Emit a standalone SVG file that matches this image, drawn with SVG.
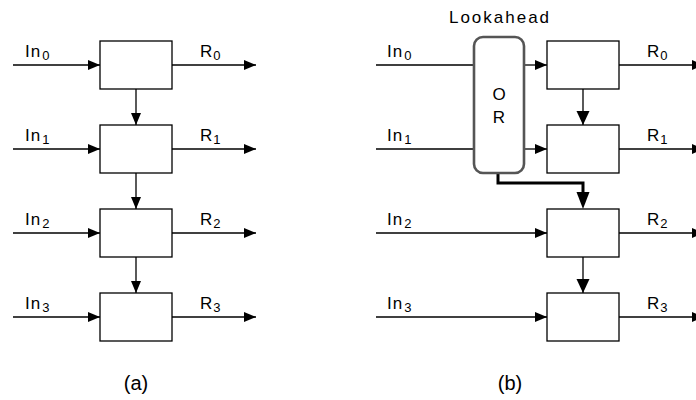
<svg xmlns="http://www.w3.org/2000/svg" width="696" height="400" viewBox="0 0 696 400">
<style>
.box{fill:#fff;stroke:#000;stroke-width:1.3}
.ln{fill:none;stroke:#000;stroke-width:1.3}
.thick{fill:none;stroke:#000;stroke-width:3}
.or{fill:#fff;stroke:#555;stroke-width:2.6}
text{font-family:"Liberation Sans",Arial,sans-serif;font-size:17px;fill:#000}
.lb{letter-spacing:1px}
.sub{font-size:13px;letter-spacing:0}
.cap{font-size:20px}
</style>
<defs>
<marker id="a" markerUnits="userSpaceOnUse" markerWidth="13" markerHeight="11" refX="12" refY="5" orient="auto"><path d="M0,0L12,5L0,10z" fill="#000"/></marker>
<marker id="b" markerUnits="userSpaceOnUse" markerWidth="15" markerHeight="14" refX="14" refY="6.5" orient="auto"><path d="M0,0L14,6.5L0,13z" fill="#000"/></marker>
<marker id="c" markerUnits="userSpaceOnUse" markerWidth="18" markerHeight="14" refX="0" refY="6.5" orient="auto"><path d="M0,0L17,6.5L0,13z" fill="#000"/></marker>
</defs>
<g id="connectors">
<path class="ln" d="M13 65H100" marker-end="url(#a)"/>
<path class="ln" d="M13 149H100" marker-end="url(#a)"/>
<path class="ln" d="M13 233H100" marker-end="url(#a)"/>
<path class="ln" d="M13 317H100" marker-end="url(#a)"/>
<path class="ln" d="M172 65H256" marker-end="url(#a)"/>
<path class="ln" d="M172 149H256" marker-end="url(#a)"/>
<path class="ln" d="M172 233H256" marker-end="url(#a)"/>
<path class="ln" d="M172 317H256" marker-end="url(#a)"/>
<path class="ln" d="M136 89V125" marker-end="url(#a)"/>
<path class="ln" d="M136 173V209" marker-end="url(#a)"/>
<path class="ln" d="M136 257V293" marker-end="url(#a)"/>
<path class="ln" d="M376 65H474M376 149H474"/>
<path class="ln" d="M524 65H547" marker-end="url(#a)"/>
<path class="ln" d="M524 149H547" marker-end="url(#a)"/>
<path class="ln" d="M376 233H547" marker-end="url(#a)"/>
<path class="ln" d="M376 317H547" marker-end="url(#a)"/>
<path class="ln" d="M619 65H704" marker-end="url(#a)"/>
<path class="ln" d="M619 149H704" marker-end="url(#a)"/>
<path class="ln" d="M619 233H704" marker-end="url(#a)"/>
<path class="ln" d="M619 317H704" marker-end="url(#a)"/>
<path class="ln" d="M583 89V125" marker-end="url(#b)"/>
<path class="ln" d="M583 257V293" marker-end="url(#b)"/>
<path class="thick" d="M498 173V183H583V192" marker-end="url(#c)"/>
</g>
<g id="a0"><rect class="box" x="100" y="41" width="72" height="48"/></g>
<g id="a1"><rect class="box" x="100" y="125" width="72" height="48"/></g>
<g id="a2"><rect class="box" x="100" y="209" width="72" height="48"/></g>
<g id="a3"><rect class="box" x="100" y="293" width="72" height="48"/></g>
<g id="b0"><rect class="box" x="547" y="41" width="72" height="48"/></g>
<g id="b1"><rect class="box" x="547" y="125" width="72" height="48"/></g>
<g id="b2"><rect class="box" x="547" y="209" width="72" height="48"/></g>
<g id="b3"><rect class="box" x="547" y="293" width="72" height="48"/></g>
<g id="or">
<rect class="or" x="474" y="37" width="50" height="136" rx="9"/>
<text x="499" y="100" text-anchor="middle">O</text>
<text x="499" y="123" text-anchor="middle">R</text>
</g>
<g id="labels">
<text class="lb" x="25" y="57">In<tspan class="sub" dx="1" dy="3">0</tspan></text>
<text class="lb" x="25" y="141">In<tspan class="sub" dx="1" dy="3">1</tspan></text>
<text class="lb" x="25" y="225">In<tspan class="sub" dx="1" dy="3">2</tspan></text>
<text class="lb" x="25" y="309">In<tspan class="sub" dx="1" dy="3">3</tspan></text>
<text x="200" y="57">R<tspan class="sub" dx="1" dy="3">0</tspan></text>
<text x="200" y="141">R<tspan class="sub" dx="1" dy="3">1</tspan></text>
<text x="200" y="225">R<tspan class="sub" dx="1" dy="3">2</tspan></text>
<text x="200" y="309">R<tspan class="sub" dx="1" dy="3">3</tspan></text>
<text class="lb" x="387" y="57">In<tspan class="sub" dx="1" dy="3">0</tspan></text>
<text class="lb" x="387" y="141">In<tspan class="sub" dx="1" dy="3">1</tspan></text>
<text class="lb" x="387" y="225">In<tspan class="sub" dx="1" dy="3">2</tspan></text>
<text class="lb" x="387" y="309">In<tspan class="sub" dx="1" dy="3">3</tspan></text>
<text x="647" y="57">R<tspan class="sub" dx="1" dy="3">0</tspan></text>
<text x="647" y="141">R<tspan class="sub" dx="1" dy="3">1</tspan></text>
<text x="647" y="225">R<tspan class="sub" dx="1" dy="3">2</tspan></text>
<text x="647" y="309">R<tspan class="sub" dx="1" dy="3">3</tspan></text>
<text x="500" y="23" text-anchor="middle" letter-spacing="2">Lookahead</text>
<text class="cap" x="136" y="390" text-anchor="middle">(a)</text>
<text class="cap" x="510" y="390" text-anchor="middle">(b)</text>
</g>
</svg>
